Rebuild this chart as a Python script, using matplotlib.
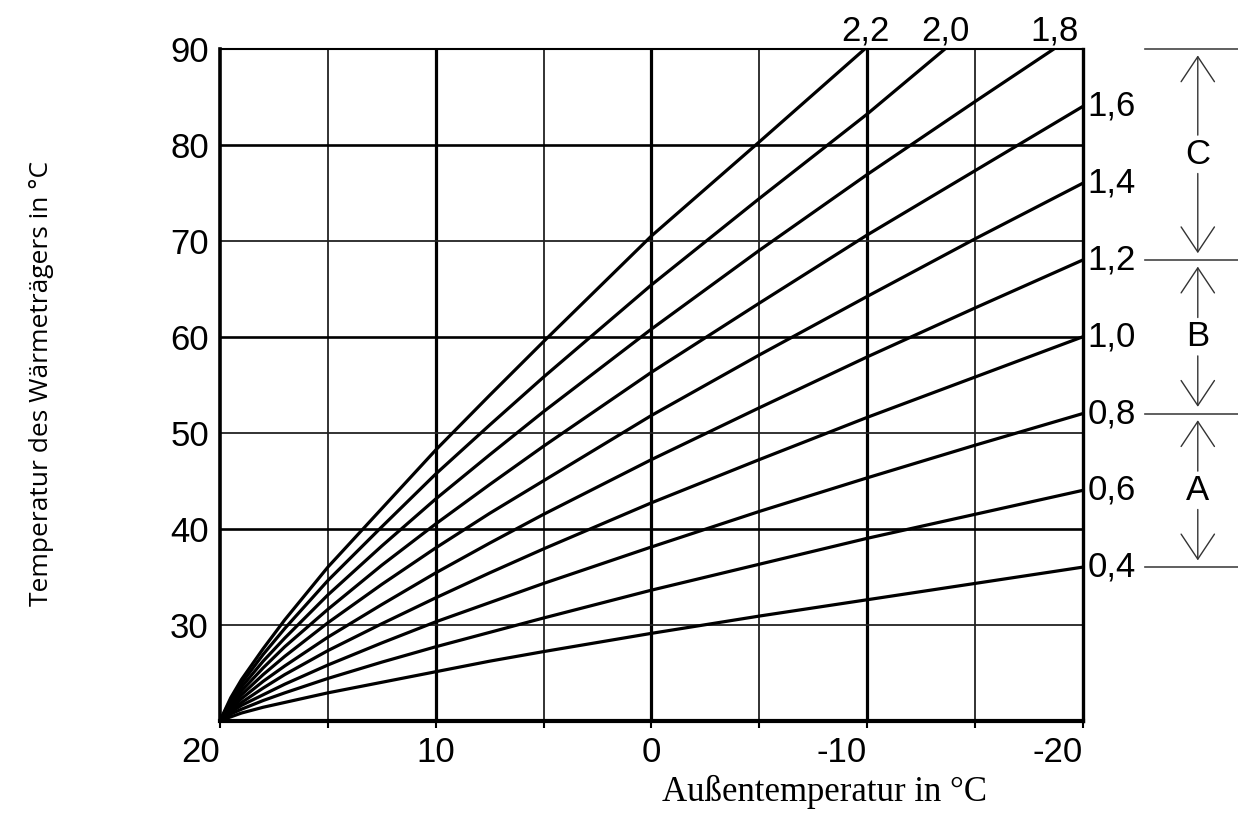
import matplotlib
matplotlib.use("Agg")
import matplotlib.pyplot as plt
import numpy as np

plt.rcParams['font.family'] = ['Liberation Sans', 'DejaVu Sans']

# Außentemperatur (x) in °C and the read-off flow temperatures for each curve
aussen = [20, 19.5, 19, 18, 17, 15, 12.5, 10, 7.5, 5, 0, -5, -10, -15, -20]
steilheit = ['0,4', '0,6', '0,8', '1,0', '1,2', '1,4', '1,6', '1,8', '2,0', '2,2']
kurve_04 = [20, 20.4, 20.8, 21.4, 21.9, 22.9, 24.0, 25.1, 26.2, 27.2, 29.1, 30.9, 32.6, 34.3, 36]
kurve_06 = [20, 20.7, 21.2, 22.1, 22.9, 24.4, 26.1, 27.7, 29.2, 30.7, 33.6, 36.3, 39.0, 41.5, 44]
kurve_08 = [20, 20.9, 21.6, 22.7, 23.8, 25.8, 28.1, 30.3, 32.3, 34.3, 38.1, 41.8, 45.3, 48.7, 52]
kurve_10 = [20, 21.1, 21.9, 23.4, 24.8, 27.3, 30.1, 32.8, 35.4, 37.9, 42.7, 47.2, 51.6, 55.8, 60]
kurve_12 = [20, 21.3, 22.3, 24.1, 25.7, 28.7, 32.1, 35.4, 38.5, 41.5, 47.2, 52.6, 57.9, 63.0, 68]
kurve_14 = [20, 21.5, 22.7, 24.8, 26.7, 30.2, 34.2, 38.0, 41.6, 45.0, 51.8, 58.1, 64.2, 70.2, 76]
kurve_16 = [20, 21.8, 23.1, 25.5, 27.7, 31.6, 36.2, 40.5, 44.6, 48.6, 56.3, 63.5, 70.6, 77.3, 84]
kurve_18 = [20, 22.0, 23.5, 26.2, 28.6, 33.1, 38.2, 43.1, 47.7, 52.2, 60.8, 69.0, 76.9, 84.5, 92]
kurve_20 = [20, 22.2, 23.9, 26.9, 29.6, 34.6, 40.2, 45.7, 50.8, 55.8, 65.4, 74.4, 83.2, 92.6, 100]
kurve_22 = [20, 22.4, 24.3, 27.5, 30.5, 36.0, 42.1, 48.2, 53.9, 59.5, 70.5, 80.3, 90.2, 98.8, 108]
kurven = [kurve_04, kurve_06, kurve_08, kurve_10, kurve_12,
          kurve_14, kurve_16, kurve_18, kurve_20, kurve_22]

# Bereiche A, B, C (Grenzen in °C)
bereiche = ['A', 'B', 'C']
grenzen = [36, 52, 68, 90]

fig = plt.figure(figsize=(12.38, 8.16), dpi=100)
ax = fig.add_axes([0.1777, 0.1168, 0.6971, 0.8235])
ax.set_xlim(20, -20)
ax.set_ylim(20, 90)

# Gitter: dicke Linien bei 10er-Schritten, dünne dazwischen
for xv in [15, 5, -5, -15]:
    ax.axvline(xv, color='#222222', lw=1.3, zorder=1)
for xv in [10, 0, -10]:
    ax.axvline(xv, color='black', lw=2.3, zorder=1)
for yv in [70, 50, 30]:
    ax.axhline(yv, color='#222222', lw=1.3, zorder=1)
for yv in [80, 60, 40]:
    ax.axhline(yv, color='black', lw=1.9, zorder=1)

# Heizkurven
for y in kurven:
    ax.plot(aussen, y, color='black', lw=2.3, zorder=3, solid_capstyle='round')

# Beschriftung der Kurven
for lab, y in zip(steilheit, kurven):
    if y[-1] <= 90:
        ax.annotate(lab, xy=(-20, y[-1]), xytext=(3, 0), textcoords='offset points',
                    ha='left', va='center', fontsize=25, annotation_clip=False)
    else:
        xs = np.interp(90, y, aussen)
        ax.annotate(lab, xy=(xs, 90), xytext=(0, 6), textcoords='offset points',
                    ha='center', va='baseline', fontsize=25, annotation_clip=False)

# Achsen
ax.set_xticks([20, 10, 0, -10, -20])
ax.set_xticklabels(['20', '10', '0', '-10', '-20'])
ax.set_xticks([15, 5, -5, -15], minor=True)
ax.set_yticks([30, 40, 50, 60, 70, 80, 90])
ax.tick_params(axis='x', which='both', direction='out', length=5, width=1.5,
               labelsize=25, pad=6)
ax.tick_params(axis='y', length=0, labelsize=25, pad=8)
for t, ha in zip(ax.get_xticklabels(), ['right', 'center', 'center', 'right', 'right']):
    t.set_ha(ha)
for side, lw in [('left', 2.6), ('bottom', 3.0), ('right', 2.4), ('top', 1.5)]:
    ax.spines[side].set_linewidth(lw)
    ax.spines[side].set_zorder(4)

# Bereichsmarkierung rechts
trans = ax.get_yaxis_transform()
for g in grenzen:
    ax.plot([1.072, 1.2], [g, g], transform=trans, color='#444444', lw=1.2, clip_on=False)
xm = 1.133
for lab, lo, hi in zip(bereiche, grenzen[:-1], grenzen[1:]):
    mid = (lo + hi) / 2
    ax.text(xm, mid, lab, transform=trans, ha='center', va='center', fontsize=25)
    for start, tip in [(mid + 2.0, hi - 0.7), (mid - 2.0, lo + 0.7)]:
        ax.annotate('', xy=(xm, tip), xytext=(xm, start), xycoords=trans, textcoords=trans,
                    arrowprops=dict(arrowstyle='->,head_length=1.2,head_width=0.8',
                                    color='#333333', lw=1.0, shrinkA=0, shrinkB=0,
                                    mutation_scale=15),
                    annotation_clip=False)

fig.text(42 / 1238, 1 - 383 / 816, 'Temperatur des Wärmeträgers in °C', rotation=90,
         ha='center', va='center', fontsize=19, family=['Open Sans', 'DejaVu Sans'])
fig.text(825 / 1238, 1 - 801 / 816, 'Außentemperatur in °C', ha='center', va='baseline',
         fontsize=25, family=['Liberation Serif', 'DejaVu Serif'])

fig.savefig('out.png', dpi=100)
